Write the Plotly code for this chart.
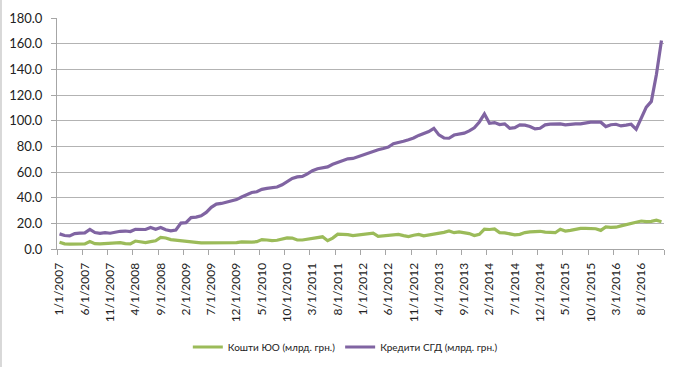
import plotly.graph_objects as go

tick_labels = ["1/1/2007", "6/1/2007", "11/1/2007", "4/1/2008", "9/1/2008", "2/1/2009",
               "7/1/2009", "12/1/2009", "5/1/2010", "10/1/2010", "3/1/2011", "8/1/2011",
               "1/1/2012", "6/1/2012", "11/1/2012", "4/1/2013", "9/1/2013", "2/1/2014",
               "7/1/2014", "12/1/2014", "5/1/2015", "10/1/2015", "3/1/2016", "8/1/2016"]

# monthly values, Jan 2007 .. Dec 2016
kredyty_sgd = [
    11.8, 10.5, 10.2, 12.0, 12.3, 12.6, 15.3, 12.8, 12.2, 12.8, 12.3, 13.2,
    13.8, 14.0, 13.6, 15.4, 15.5, 15.2, 16.8, 15.4, 16.8, 15.0, 14.2, 14.8,
    20.2, 20.5, 24.5, 24.8, 25.8, 28.5, 32.5, 35.0, 35.5, 36.3, 37.5, 38.5,
    40.5, 42.5, 44.0, 44.6, 46.5, 47.2, 47.6, 48.3, 50.0, 52.5, 55.0, 56.2,
    56.6, 58.5, 61.0, 62.5, 63.0, 64.0, 66.0, 67.3, 69.0, 70.3, 70.6, 72.0,
    73.5, 74.8, 76.5, 77.3, 78.3, 79.5, 82.0, 83.3, 84.0, 85.2, 86.5, 88.5,
    90.0, 91.5, 94.0, 88.9, 86.5, 86.3, 88.8, 89.3, 90.3, 92.0, 94.5, 99.0,
    105.3, 98.0, 98.5, 97.0, 97.5, 94.1, 94.6, 96.7, 96.5, 95.5, 93.6, 94.1,
    96.7, 97.3, 97.5, 97.5, 96.7, 97.4, 97.5, 97.5, 98.3, 98.8, 98.8, 98.8,
    95.4, 96.8, 97.2, 95.9, 96.5, 97.2, 93.3, 101.5, 110.5, 115.0, 136.0, 162.5,
]

koshty_yuo = [
    5.3, 4.0, 3.8, 3.8, 3.8, 3.9, 5.8, 4.2, 4.0, 4.4, 4.5, 4.8,
    5.0, 4.2, 4.0, 6.2, 5.4, 5.0, 5.8, 6.4, 9.0, 8.6, 7.3, 7.0,
    6.5, 6.0, 5.6, 5.2, 4.8, 4.8, 5.0, 5.0, 5.0, 5.2, 4.9, 5.0,
    5.6, 5.2, 5.3, 5.7, 7.3, 7.0, 6.5, 6.8, 8.0, 8.6, 8.5, 7.0,
    7.0, 7.5, 8.2, 9.0, 9.5, 6.5, 8.5, 11.5, 11.6, 11.2, 10.5, 11.0,
    10.9, 11.5, 12.4, 9.8, 10.1, 10.5, 11.0, 11.4, 10.4, 9.7, 10.7, 11.3,
    10.2, 10.8, 11.6, 12.3, 13.0, 14.0, 12.7, 13.4, 13.0, 12.0, 10.5, 11.4,
    15.5, 15.2, 15.6, 12.8, 12.6, 11.6, 11.0, 11.4, 12.8, 13.3, 13.8, 13.8,
    13.1, 12.9, 12.7, 15.4, 14.0, 14.5, 15.3, 16.0, 16.1, 16.1, 15.8, 14.5,
    17.2, 16.9, 17.0, 18.0, 18.8, 20.0, 20.4, 21.8, 21.3, 21.5, 22.5, 21.3,
]

series_names = ["Кошти ЮО (млрд. грн.)", "Кредити СГД (млрд. грн.)"]
label_step = 5

n = len(kredyty_sgd)
idx = list(range(n))

FONT = "Lato, 'Open Sans', sans-serif"
W, H = 680, 367
ML, MR, MT, MB = 57, 16, 18, 118
PW = W - ML - MR
PH = H - MT - MB

fig = go.Figure()
fig.add_trace(go.Scatter(x=idx, y=koshty_yuo, mode="lines", name=series_names[0],
                         line=dict(color="#9BBB59", width=3.2)))
fig.add_trace(go.Scatter(x=idx, y=kredyty_sgd, mode="lines", name=series_names[1],
                         line=dict(color="#8064A2", width=3.2)))

fig.update_layout(
    width=W, height=H,
    margin=dict(l=ML, r=MR, t=MT, b=MB, autoexpand=False),
    paper_bgcolor="white", plot_bgcolor="white",
    font=dict(family=FONT, color="#222"),
    showlegend=True,
    legend=dict(orientation="h", x=0.475, xanchor="center", y=-(347 - (H - MB)) / PH, yanchor="middle",
                font=dict(size=10, color="#222"), itemwidth=30, bgcolor="rgba(0,0,0,0)"),
    xaxis=dict(
        range=[-0.5, n - 0.5],
        automargin=False,
        tickmode="array",
        tickvals=[i * label_step for i in range(len(tick_labels))],
        ticktext=tick_labels,
        tickangle=-90,
        ticks="",
        ticklabelstandoff=8,
        tickfont=dict(size=12, family=FONT, color="#222"),
        showgrid=False, zeroline=False,
        showline=True, linecolor="#a6a6a6", linewidth=1,
        minor=dict(tickmode="array",
                   tickvals=[-0.5 + k * label_step for k in range(n // label_step + 1)],
                   ticks="outside", ticklen=5, tickcolor="#a6a6a6", tickwidth=1, showgrid=False),
    ),
    yaxis=dict(
        range=[0, 180], dtick=20, tick0=0, tickformat=".1f",
        automargin=False,
        ticks="outside", ticklen=5, tickcolor="#a6a6a6",
        ticklabelstandoff=6,
        tickfont=dict(size=13, family=FONT, color="#222"),
        showgrid=True, gridcolor="#b3b3b3", gridwidth=1,
        zeroline=False, showline=True, linecolor="#a6a6a6", linewidth=1,
    ),
    shapes=[dict(type="line", xref="paper", yref="paper",
                 x0=(1.0 - ML) / PW, x1=(1.0 - ML) / PW,
                 y0=-MB / PH, y1=(H - MB) / PH,
                 line=dict(color="#bfbfbf", width=1.2))],
)

fig.write_html("out.html",
               config={"displayModeBar": False},
               post_script="document.body.style.margin='0px';document.body.style.overflow='hidden';")
